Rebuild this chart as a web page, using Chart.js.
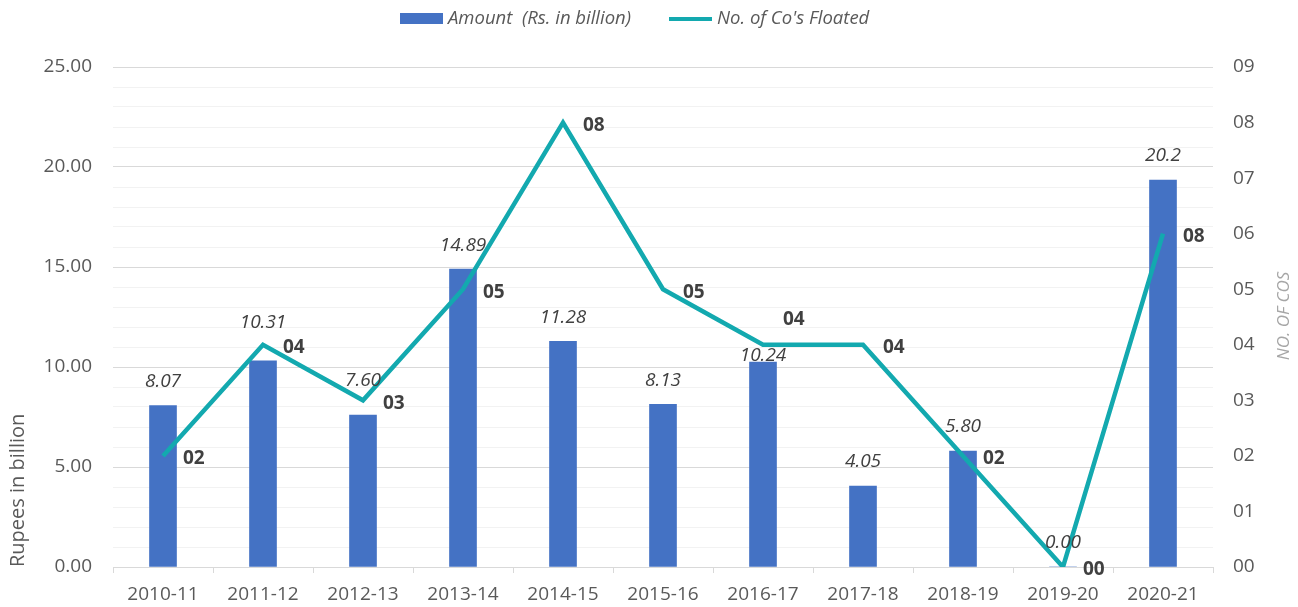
<!DOCTYPE html>
<html>
<head>
<meta charset="utf-8">
<script src="https://cdn.jsdelivr.net/npm/chart.js@4.4.1/dist/chart.umd.min.js"></script>
<style>
  html, body { margin: 0; padding: 0; background: #fff; }
  #wrap { width: 1298px; height: 607px; }
</style>
</head>
<body>
<div id="wrap"><canvas id="ipo-chart" width="1298" height="607"></canvas></div>
<script>
const years = ["2010-11", "2011-12", "2012-13", "2013-14", "2014-15", "2015-16",
  "2016-17", "2017-18", "2018-19", "2019-20", "2020-21"];
const amounts = [8.07, 10.31, 7.60, 14.89, 11.28, 8.13, 10.24, 4.05, 5.80, 0.00, 19.35];
const amountLabels = ["8.07", "10.31", "7.60", "14.89", "11.28", "8.13", "10.24", "4.05", "5.80", "0.00", "20.2"];
const companies = [2, 4, 3, 5, 8, 5, 4, 4, 2, 0, 6];
const companyLabels = ["02", "04", "03", "05", "08", "05", "04", "04", "02", "00", "08"];
const amountTicks = [0, 5, 10, 15, 20, 25];

// hand-moved label nudges (px), as in the original sheet
const amountLabelShift = [0, -14, -10, 0, 0, 0, 17, 0, 0, 0, 0];
const countLabelShift = [0, 0, 0, 0, 0, 0, -28, 0, 0, 0, 0];

const FONT = "'Open Sans', sans-serif";
const BAR_COLOR = "#4472C4";
const LINE_COLOR = "#13A9AF";

// labels, legend and axis titles drawn by hand (excel-like placement)
const annotate = {
  id: "annotate",
  afterDatasetsDraw(chart) {
    const c = chart.ctx;
    c.save();
    c.fillStyle = "#404040";

    c.font = "italic 19px " + FONT;
    c.textAlign = "center";
    c.textBaseline = "middle";
    chart.getDatasetMeta(0).data.forEach((bar, i) => {
      c.fillText(amountLabels[i], bar.x, bar.y - 24 + amountLabelShift[i]);
    });

    c.font = "bold 19px " + FONT;
    c.textAlign = "left";
    chart.getDatasetMeta(1).data.forEach((pt, i) => {
      c.fillText(companyLabels[i], pt.x + 20, pt.y + 3 + countLabelShift[i]);
    });
    c.restore();
  },
  afterDraw(chart) {
    const c = chart.ctx;
    c.save();

    // legend
    c.fillStyle = BAR_COLOR;
    c.fillRect(400, 13, 43, 11);
    c.strokeStyle = LINE_COLOR;
    c.lineWidth = 4;
    c.beginPath();
    c.moveTo(669, 19);
    c.lineTo(712, 19);
    c.stroke();
    c.fillStyle = "#595959";
    c.font = "italic 18.5px " + FONT;
    c.textAlign = "left";
    c.textBaseline = "middle";
    c.fillText("Amount  (Rs. in billion)", 448, 19);
    c.fillText("No. of Co's Floated", 717, 19);

    // left title
    c.save();
    c.translate(18, 567);
    c.rotate(-Math.PI / 2);
    c.font = "20px " + FONT;
    c.fillStyle = "#595959";
    c.textAlign = "left";
    c.textBaseline = "middle";
    c.fillText("Rupees in billion", 0, 0);
    c.restore();

    // right title
    c.save();
    c.translate(1284, 316);
    c.rotate(-Math.PI / 2);
    c.font = "italic 17px " + FONT;
    c.fillStyle = "#A6A6A6";
    c.textAlign = "center";
    c.textBaseline = "middle";
    c.fillText("NO. OF COS", 0, 0);
    c.restore();

    c.restore();
  }
};

const ctx = document.getElementById("ipo-chart").getContext("2d");

const chart = new Chart(ctx, {
  type: "bar",
  data: {
    labels: years,
    datasets: [
      {
        label: "Amount  (Rs. in billion)",
        data: amounts,
        backgroundColor: BAR_COLOR,
        barThickness: 27,
        yAxisID: "y",
        order: 2,
      },
      {
        type: "line",
        label: "No. of Co's Floated",
        data: companies,
        borderColor: LINE_COLOR,
        borderWidth: 4.5,
        pointRadius: 0,
        tension: 0,
        borderJoinStyle: "miter",
        yAxisID: "y1",
        order: 1,
      },
    ],
  },
  options: {
    responsive: false,
    animation: false,
    devicePixelRatio: 1,
    layout: { padding: { top: 67, left: 0, right: 0, bottom: 0 } },
    plugins: {
      legend: { display: false },
      tooltip: { enabled: false },
    },
    scales: {
      x: {
        afterFit: (s) => { s.height = 40; },
        grid: {
          offset: true,
          drawOnChartArea: false,
          drawTicks: true,
          tickLength: 6,
          color: "#d9d9d9",
        },
        border: { color: "#d9d9d9" },
        ticks: {
          color: "#595959",
          font: { family: FONT, size: 19 },
          padding: 10,
          maxRotation: 0,
        },
      },
      y: {
        position: "left",
        min: 0,
        max: 25,
        afterFit: (s) => { s.width = 113; },
        border: { display: false },
        grid: {
          drawTicks: false,
          color: (c) => (c.tick && amountTicks.includes(c.tick.value) ? "#d9d9d9" : "#f2f2f2"),
        },
        ticks: {
          stepSize: 1,
          autoSkip: false,
          padding: 21,
          color: "#595959",
          font: { family: FONT, size: 19 },
          callback: (v) => (amountTicks.includes(v) ? v.toFixed(2) : ""),
        },
      },
      y1: {
        position: "right",
        min: 0,
        max: 9,
        afterFit: (s) => { s.width = 85; },
        border: { display: false },
        grid: { display: false, drawTicks: false },
        ticks: {
          stepSize: 1,
          padding: 20,
          color: "#595959",
          font: { family: FONT, size: 19 },
          callback: (v) => String(v).padStart(2, "0"),
        },
      },
    },
  },
  plugins: [annotate],
});
</script>
</body>
</html>
